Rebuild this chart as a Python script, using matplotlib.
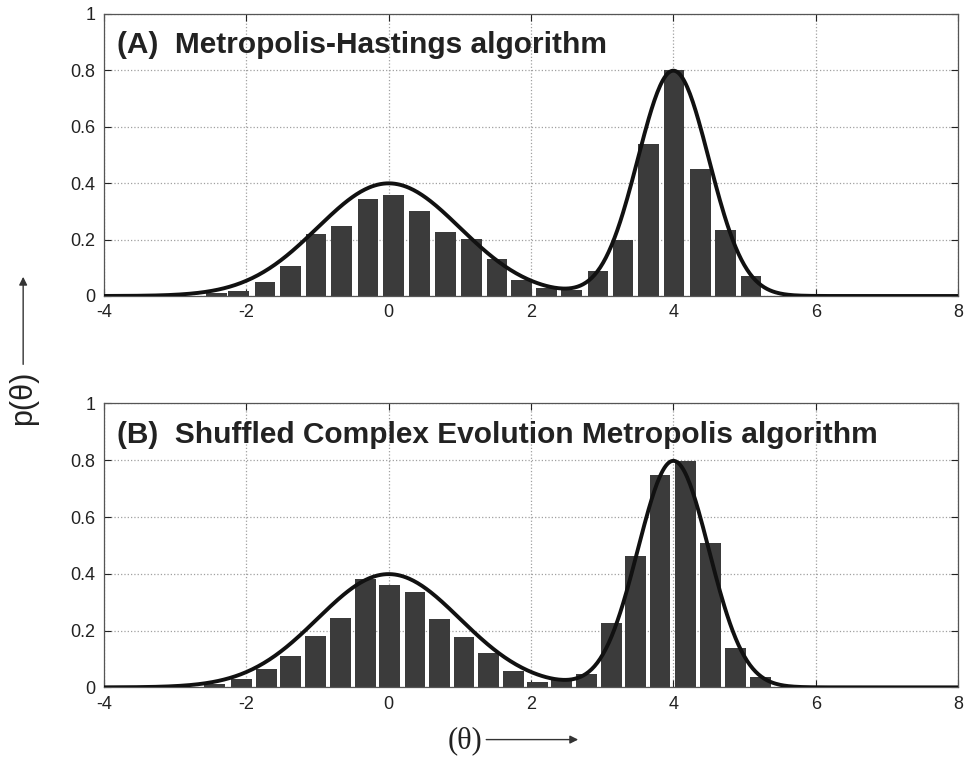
import numpy as np
import matplotlib.pyplot as plt
from matplotlib.ticker import FixedLocator

# target density: two gaussians, N(0, 1) and N(4, 0.5)
mode_means = [0.0, 4.0]
mode_sds = [1.0, 0.5]

# (A) Metropolis-Hastings histogram
mh_centers = [-2.42, -2.11, -1.74, -1.38, -1.02, -0.66, -0.29, 0.07, 0.43, 0.80,
              1.16, 1.52, 1.87, 2.22, 2.57, 2.94, 3.29, 3.65, 4.01, 4.38, 4.73, 5.09]
mh_heights = [0.010, 0.016, 0.050, 0.107, 0.218, 0.247, 0.345, 0.358, 0.302, 0.227,
              0.202, 0.131, 0.056, 0.030, 0.021, 0.090, 0.200, 0.539, 0.802, 0.449,
              0.235, 0.070]

# (B) SCEM histogram
scem_centers = [-2.45, -2.07, -1.72, -1.38, -1.03, -0.68, -0.33, 0.01, 0.37, 0.71,
                1.06, 1.40, 1.75, 2.09, 2.43, 2.78, 3.13, 3.47, 3.81, 4.17, 4.52,
                4.87, 5.22]
scem_heights = [0.012, 0.029, 0.065, 0.110, 0.181, 0.244, 0.381, 0.360, 0.335, 0.240,
                0.179, 0.120, 0.058, 0.020, 0.028, 0.046, 0.227, 0.463, 0.749, 0.797,
                0.510, 0.138, 0.035]

titles = ["(A)  Metropolis-Hastings algorithm",
          "(B)  Shuffled Complex Evolution Metropolis algorithm"]
xticks = [-4, -2, 0, 2, 4, 6, 8]
yticks = [0, 0.2, 0.4, 0.6, 0.8, 1]
ytick_labels = ["0", "0.2", "0.4", "0.6", "0.8", "1"]

plt.rcParams['font.family'] = ['Liberation Sans', 'DejaVu Sans']
plt.rcParams['axes.unicode_minus'] = False

theta = np.linspace(-4, 8, 600)
density = sum(np.exp(-0.5 * ((theta - m) / s) ** 2) / (s * np.sqrt(2 * np.pi))
              for m, s in zip(mode_means, mode_sds))

fig = plt.figure(figsize=(9.65, 7.57), dpi=100)
ax_a = fig.add_axes([0.1078, 0.609, 0.885, 0.373])
ax_b = fig.add_axes([0.1078, 0.092, 0.885, 0.375])

for ax, cx, hy, title in [(ax_a, mh_centers, mh_heights, titles[0]),
                          (ax_b, scem_centers, scem_heights, titles[1])]:
    ax.bar(cx, hy, width=0.29, color='#3b3b3b', edgecolor='none', zorder=2)
    ax.plot(theta, density, color='#111111', lw=2.8, zorder=3)
    ax.set_xlim(-4, 8)
    ax.set_ylim(0, 1)
    ax.xaxis.set_major_locator(FixedLocator(xticks))
    ax.set_yticks(yticks)
    ax.set_yticklabels(ytick_labels)
    ax.tick_params(direction='in', length=5, labelsize=13, colors='#222222',
                   top=True, right=True, pad=6)
    ax.grid(True, linestyle=':', color='#a0a0a0', lw=0.9, zorder=0)
    ax.set_axisbelow(True)
    for sp in ax.spines.values():
        sp.set_color('#555555')
        sp.set_linewidth(0.9)
    ax.text(0.015, 0.89, title, transform=ax.transAxes, fontsize=21.5,
            fontweight='bold', color='#222222', va='center', ha='left')

# axis labels with arrows, in figure coordinates
fig.text(0.024, 0.474, "p(\u03b8)", rotation=90, fontsize=22, ha='center',
         va='center', color='#222222')
fig.add_artist(plt.Annotation("", xy=(0.024, 0.638), xytext=(0.024, 0.515),
                              xycoords='figure fraction',
                              arrowprops=dict(arrowstyle='-|>', color='#333333',
                                              lw=1.0, mutation_scale=12)))
fig.text(0.482, 0.021, "(\u03b8)", fontsize=22, ha='center', va='center',
         family='Liberation Serif', color='#222222')
fig.add_artist(plt.Annotation("", xy=(0.602, 0.023), xytext=(0.501, 0.023),
                              xycoords='figure fraction',
                              arrowprops=dict(arrowstyle='-|>', color='#333333',
                                              lw=1.0, mutation_scale=12)))

fig.savefig("out.png", dpi=100)
